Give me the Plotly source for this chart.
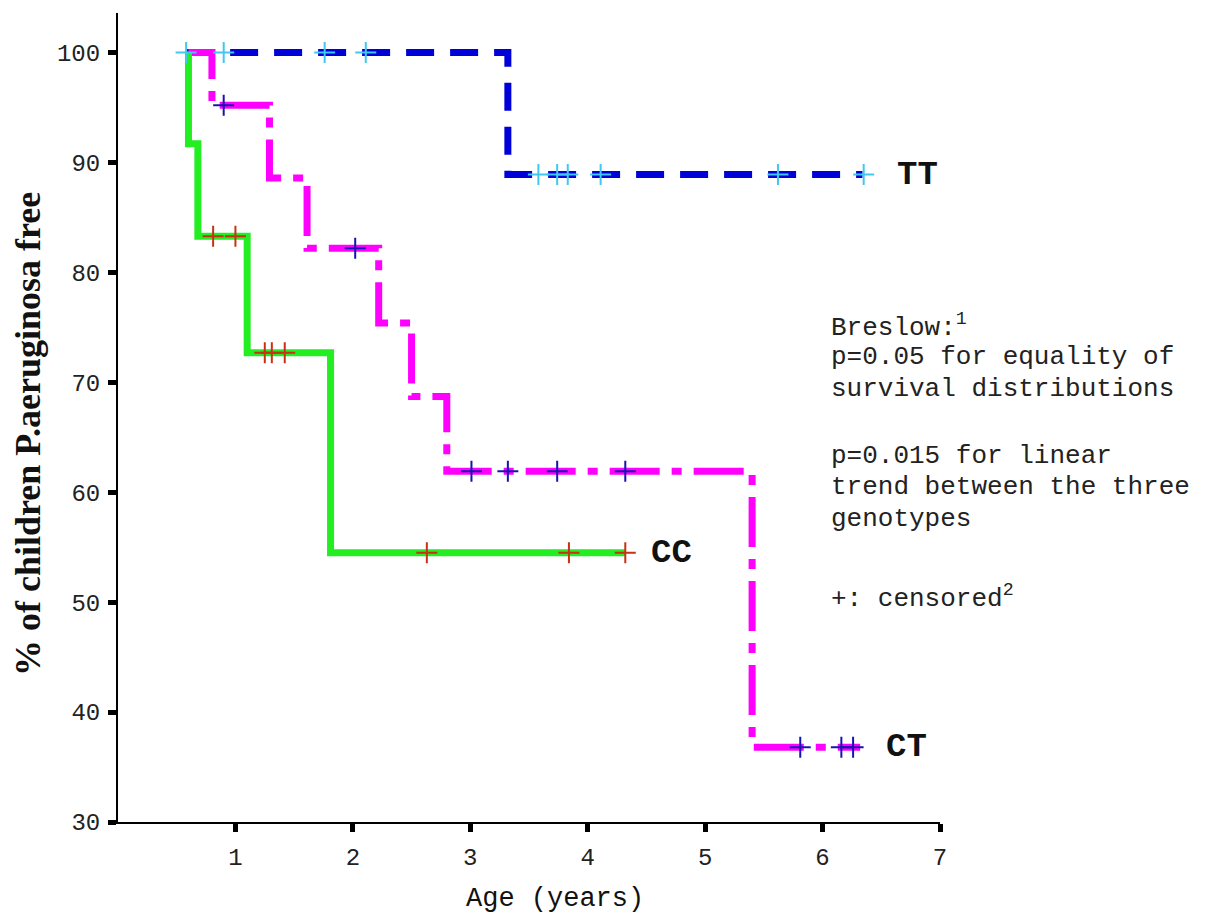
import plotly.graph_objects as go

# ---- data ----
# Step curves: x = age (years) where each step starts, y = % free
tt_x = [0.58, 3.32, 6.34]
tt_y = [100, 88.9, 88.9]
tt_cens_x = [0.58, 0.90, 1.76, 2.11, 3.58, 3.74, 3.83, 4.11, 5.62, 6.35]
tt_cens_y = [100, 100, 100, 100, 88.9, 88.9, 88.9, 88.9, 88.9, 88.9]

ct_x = [0.60, 0.80, 1.29, 1.61, 2.22, 2.50, 2.80, 5.40, 6.32]
ct_y = [100, 95.2, 88.6, 82.2, 75.4, 68.7, 61.9, 36.8, 36.8]
ct_cens_x = [0.90, 2.02, 3.01, 3.32, 3.74, 4.32, 5.81, 6.16, 6.26]
ct_cens_y = [95.2, 82.2, 61.9, 61.9, 61.9, 61.9, 36.8, 36.8, 36.8]

cc_x = [0.60, 0.60, 0.68, 1.10, 1.81, 4.32]
cc_y = [100, 91.7, 83.3, 72.7, 54.5, 54.5]
cc_cens_x = [0.81, 1.00, 1.25, 1.31, 1.42, 2.63, 3.84, 4.32]
cc_cens_y = [83.3, 83.3, 72.7, 72.7, 72.7, 54.5, 54.5, 54.5]

x_ticks = [1, 2, 3, 4, 5, 6, 7]
y_ticks = [30, 40, 50, 60, 70, 80, 90, 100]

group_labels = ["TT", "CT", "CC"]

stat_lines = ["Breslow:<sup>1</sup>",
              "p=0.05 for equality of",
              "survival distributions",
              "p=0.015 for linear",
              "trend between the three",
              "genotypes",
              "+: censored<sup>2</sup>"]

# ---- layout geometry (page pixels; the page body adds an 8px offset) ----
OFF = 8
W, H = 1210 - 2 * OFF, 923 - 2 * OFF
X0, X1, Y0, Y1 = 118, 940, 13, 822          # plot area on the page
L, T = X0 - OFF, Y0 - OFF
R, B = W - (X1 - OFF), H - (Y1 - OFF)
PW, PH = X1 - X0, Y1 - Y0


def px(xs):
    return (xs - X0) / PW


def py(ys):
    return (Y1 - ys) / PH


# ---- figure ----
fig = go.Figure()

fig.add_trace(go.Scatter(x=tt_x, y=tt_y, mode="lines", line_shape="hv",
                         line=dict(color="#0000d8", width=7, dash="28px,16px"),
                         name="TT", showlegend=False, hoverinfo="skip"))
fig.add_trace(go.Scatter(x=ct_x, y=ct_y, mode="lines", line_shape="hv",
                         line=dict(color="#ff00ff", width=7, dash="50px,12px,10px,12px"),
                         name="CT", showlegend=False, hoverinfo="skip"))
fig.add_trace(go.Scatter(x=cc_x, y=cc_y, mode="lines", line_shape="hv",
                         line=dict(color="#22ee22", width=7),
                         name="CC", showlegend=False, hoverinfo="skip"))

mk = dict(symbol="cross-thin", size=15)
fig.add_trace(go.Scatter(x=tt_cens_x, y=tt_cens_y, mode="markers",
                         marker=dict(**mk, line=dict(color="#40c8f0", width=2)),
                         showlegend=False))
fig.add_trace(go.Scatter(x=ct_cens_x, y=ct_cens_y, mode="markers",
                         marker=dict(**mk, line=dict(color="#1414b4", width=2)),
                         showlegend=False))
fig.add_trace(go.Scatter(x=cc_cens_x, y=cc_cens_y, mode="markers",
                         marker=dict(**mk, line=dict(color="#c83214", width=2)),
                         showlegend=False))

# group labels at the curve ends
lab_font = dict(family="Liberation Mono", size=34, color="#111111")
fig.add_annotation(x=tt_x[-1], y=tt_y[-1], text="<b>" + group_labels[0] + "</b>",
                   xanchor="left", yanchor="middle", xshift=32, showarrow=False, font=lab_font)
fig.add_annotation(x=ct_x[-1], y=ct_y[-1], text="<b>" + group_labels[1] + "</b>",
                   xanchor="left", yanchor="middle", xshift=24, showarrow=False, font=lab_font)
fig.add_annotation(x=cc_x[-1], y=cc_y[-1], text="<b>" + group_labels[2] + "</b>",
                   xanchor="left", yanchor="middle", xshift=24, showarrow=False, font=lab_font)

# statistics text, one annotation per line
txt_font = dict(family="Liberation Mono", size=26, color="#222222")
line_y = [326, 357, 389, 456, 487, 519, 597]
for t, yy in zip(stat_lines, line_y):
    fig.add_annotation(xref="paper", yref="paper", x=px(829), y=py(yy),
                       xanchor="left", yanchor="middle", align="left", showarrow=False,
                       text=t, font=txt_font)

# axis titles
fig.add_annotation(xref="paper", yref="paper", x=px(555), y=py(899),
                   xanchor="center", yanchor="middle", showarrow=False,
                   text="Age (years)",
                   font=dict(family="Liberation Mono", size=27, color="#111111"))
fig.add_annotation(xref="paper", yref="paper", x=px(28), y=py(434),
                   xanchor="center", yanchor="middle", showarrow=False, textangle=-90,
                   text="<b>% of children P.aeruginosa free</b>",
                   font=dict(family="Liberation Serif", size=36, color="#111111"))

fig.update_layout(
    width=W, height=H,
    margin=dict(l=L, r=R, t=T, b=B),
    paper_bgcolor="white", plot_bgcolor="white",
    showlegend=False,
    xaxis=dict(range=[0, 7], tickvals=x_ticks, automargin=False,
               showgrid=False, zeroline=False, showline=True, linecolor="black", linewidth=2,
               ticks="outside", ticklen=8, tickwidth=5, tickcolor="black",
               ticklabelstandoff=4,
               tickfont=dict(family="Liberation Mono", size=24, color="#222222")),
    yaxis=dict(range=[30, 103.6], tickvals=y_ticks, automargin=False,
               showgrid=False, zeroline=False, showline=True, linecolor="black", linewidth=2,
               ticks="outside", ticklen=8, tickwidth=5, tickcolor="black",
               ticklabelstandoff=3,
               tickfont=dict(family="Liberation Mono", size=24, color="#222222")),
)

fig.write_html("out.html")
